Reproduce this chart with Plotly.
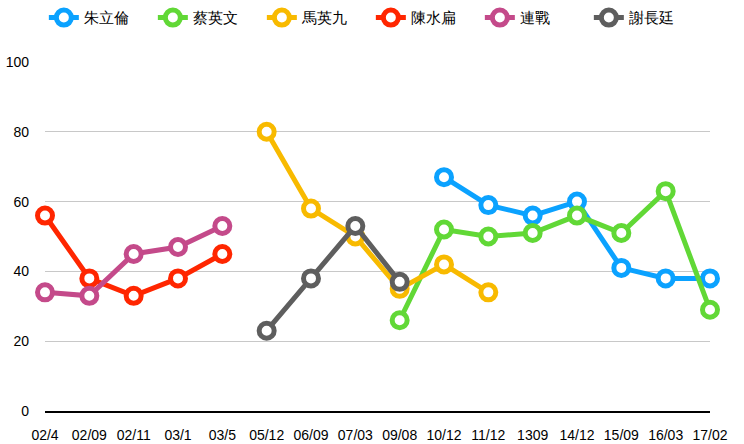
import plotly.graph_objects as go

categories = ["02/4", "02/09", "02/11", "03/1", "03/5", "05/12", "06/09", "07/03",
              "09/08", "10/12", "11/12", "1309", "14/12", "15/09", "16/03", "17/02"]

zhu_lilun = [None, None, None, None, None, None, None, None, None, 67, 59, 56, 60, 41, 38, 38]
tsai_ingwen = [None, None, None, None, None, None, None, None, 26, 52, 50, 51, 56, 51, 63, 29]
ma_yingjeou = [None, None, None, None, None, 80, 58, 50, 35, 42, 34, None, None, None, None, None]
chen_shuibian = [56, 38, 33, 38, 45, None, None, None, None, None, None, None, None, None, None, None]
lien_chan = [34, 33, 45, 47, 53, None, None, None, None, None, None, None, None, None, None, None]
hsieh_changting = [None, None, None, None, None, 23, 38, 53, 37, None, None, None, None, None, None, None]

series = [
    ("朱立倫", zhu_lilun, "#0BA2FF"),
    ("蔡英文", tsai_ingwen, "#61D836"),
    ("馬英九", ma_yingjeou, "#F8BA00"),
    ("陳水扁", chen_shuibian, "#FF2600"),
    ("連戰", lien_chan, "#C44A8A"),
    ("謝長廷", hsieh_changting, "#5E5E5E"),
]

xs = list(range(len(categories)))

fig = go.Figure()
for name, vals, color in series:
    fig.add_trace(go.Scatter(
        x=xs, y=vals, name=name, mode="lines+markers",
        line=dict(color=color, width=5),
        marker=dict(size=15, color="white", line=dict(color=color, width=5)),
        connectgaps=False, cliponaxis=False,
    ))

fig.update_layout(
    width=744, height=444,
    margin=dict(l=45, r=34, t=62, b=33),
    paper_bgcolor="white", plot_bgcolor="white",
    font=dict(family="Liberation Sans, Arial, sans-serif", size=14, color="black"),
    showlegend=True,
    legend=dict(orientation="h", x=0.49, xanchor="center", y=0.997, yanchor="top",
                yref="container", font=dict(size=15), entrywidth=64,
                entrywidthmode="pixels", traceorder="normal"),
    xaxis=dict(
        tickmode="array", tickvals=xs, ticktext=categories,
        range=[0, len(categories) - 1],
        showgrid=False, zeroline=False, automargin=False,
        showline=True, linecolor="black", linewidth=1.5,
        ticks="", tickfont=dict(size=14), ticklabelstandoff=10,
    ),
    yaxis=dict(
        range=[0, 100], tickvals=[0, 20, 40, 60, 80, 100],
        showgrid=True, gridcolor="#C8C8C8", gridwidth=1,
        zeroline=False, showline=False, ticks="", automargin=False,
        tickfont=dict(size=14), ticklabelstandoff=15,
    ),
)

fig.write_html("out.html")
